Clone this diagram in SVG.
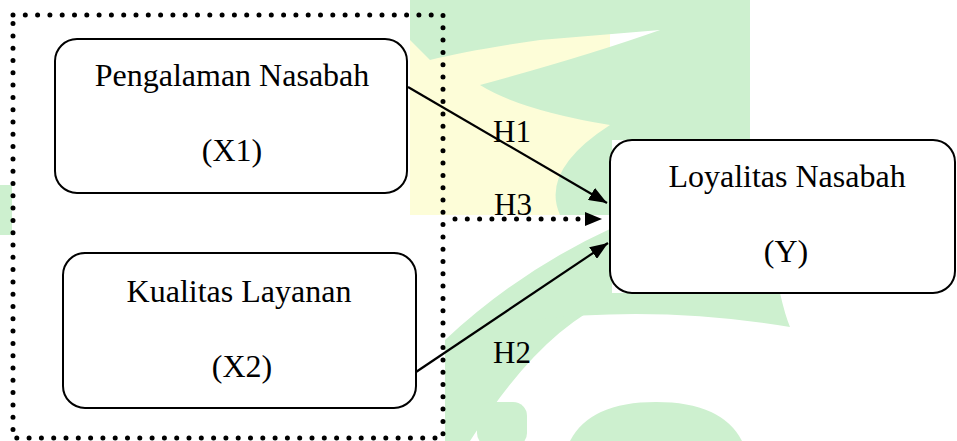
<svg xmlns="http://www.w3.org/2000/svg" width="957" height="441" viewBox="0 0 957 441">
<style>
.box{fill:#fff;stroke:#000;stroke-width:2}
.t{font-family:"Liberation Serif","Times New Roman",serif;font-size:32px;fill:#000;text-anchor:middle}
.lbl{font-family:"Liberation Serif","Times New Roman",serif;font-size:31px;fill:#000}
.ln{stroke:#000;stroke-width:2.2;fill:none}
.dot{stroke:#000;stroke-width:5;fill:none;stroke-linecap:round;stroke-dasharray:0 12.3}
.wg{fill:#cdf0cf}
.wy{fill:#fdfdd8}
</style>
<defs>
<marker id="a" viewBox="0 0 18 14" refX="18" refY="7" markerWidth="18" markerHeight="14" markerUnits="userSpaceOnUse" orient="auto">
<path d="M0,0 L18,7 L0,14 z" fill="#000"/>
</marker>
</defs>
<g id="watermark">
<rect class="wy" x="410" y="0" width="200" height="215"/>
<path class="wg" d="M410,0 L750,0 L750,140 L612,140 L612,215 L560,215 Q540,170 610,125 Q520,110 480,85 Q590,55 660,30 L540,40 Q470,50 430,60 L410,40 Z"/>
<path class="wg" d="M445,441 L445,340 Q520,270 612,228 L612,300 Q540,330 470,441 Z"/>
<path class="wg" d="M530,293 L780,293 Q785,315 790,327 Q660,305 530,320 Z"/>
<rect class="wg" x="477" y="402" width="50" height="45" rx="14"/>
<path class="wg" d="M570,441 Q590,402 656,402 Q722,402 742,441 Z"/>
<rect class="wg" x="0" y="185" width="12" height="50"/>
</g>
<g id="group-box">
<rect x="13" y="15" width="430" height="423" class="dot"/>
</g>
<g id="node-x1">
<rect class="box" x="55" y="39" width="352" height="154" rx="22"/>
<text class="t" x="232" y="86">Pengalaman Nasabah</text>
<text class="t" x="232" y="161">(X1)</text>
</g>
<g id="node-x2">
<rect class="box" x="63" y="253" width="353" height="155" rx="22"/>
<text class="t" x="239" y="302">Kualitas Layanan</text>
<text class="t" x="242" y="377">(X2)</text>
</g>
<g id="node-y">
<rect class="box" x="610" y="140" width="345" height="153" rx="22"/>
<text class="t" x="787" y="187">Loyalitas Nasabah</text>
<text class="t" x="786" y="262">(Y)</text>
</g>
<g id="connectors">
<line class="ln" x1="408" y1="87" x2="607" y2="203" marker-end="url(#a)"/>
<line class="dot" x1="455" y1="219" x2="582" y2="219"/>
<path d="M585,212 L602,219 L585,226 z" fill="#000"/>
<line class="ln" x1="416" y1="372" x2="608" y2="243" marker-end="url(#a)"/>
<text class="lbl" x="493" y="142">H1</text>
<text class="lbl" x="494" y="215">H3</text>
<text class="lbl" x="493" y="363">H2</text>
</g>
</svg>
